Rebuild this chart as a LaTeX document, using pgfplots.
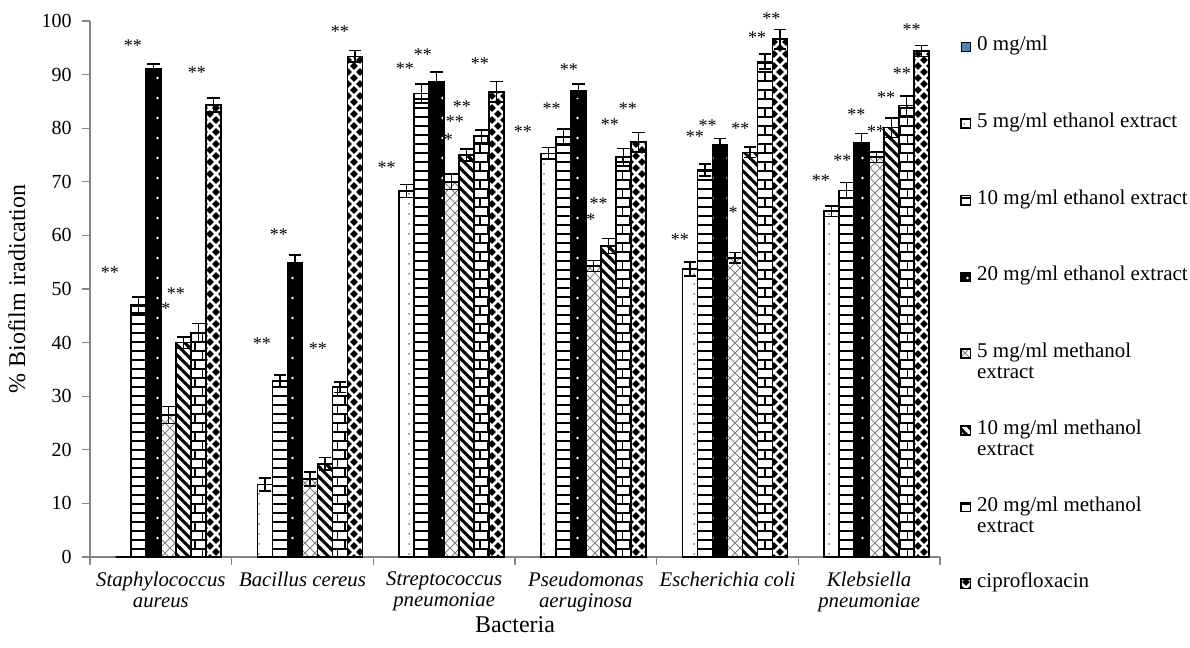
\documentclass[border=0pt]{standalone}
\usepackage{pgfplots}
\pgfplotsset{compat=1.18}
\usepackage{pgfplotstable}
\usetikzlibrary{patterns}
\usepackage{fontspec}
\setmainfont{Liberation Serif}

\definecolor{excelblue}{RGB}{79,129,189}
\definecolor{axisgray}{RGB}{134,134,134}

\pgfdeclarepatternformonly{sdots}{\pgfqpoint{-1pt}{-1pt}}{\pgfqpoint{8pt}{6pt}}{\pgfqpoint{7.5pt}{5pt}}{%
  \pgfpathcircle{\pgfqpoint{2pt}{2pt}}{0.5pt}\pgfusepath{fill}}
\pgfdeclarepatternformonly{wdots}{\pgfqpoint{-1pt}{-1pt}}{\pgfqpoint{8pt}{11pt}}{\pgfqpoint{7.5pt}{10pt}}{%
  \pgfpathcircle{\pgfqpoint{3.75pt}{5pt}}{0.7pt}\pgfusepath{fill}}
\pgfdeclarepatternformonly{hstripes}{\pgfqpoint{-1pt}{-1pt}}{\pgfqpoint{5pt}{5pt}}{\pgfqpoint{4pt}{4.5pt}}{%
  \pgfsetlinewidth{1.1pt}\pgfpathmoveto{\pgfqpoint{-1pt}{0pt}}\pgfpathlineto{\pgfqpoint{5pt}{0pt}}\pgfusepath{stroke}}
\pgfdeclarepatternformonly{xhatch}{\pgfqpoint{-1pt}{-1pt}}{\pgfqpoint{6pt}{6pt}}{\pgfqpoint{5pt}{5pt}}{%
  \pgfsetlinewidth{0.5pt}\pgfpathmoveto{\pgfqpoint{0pt}{0pt}}\pgfpathlineto{\pgfqpoint{5pt}{5pt}}%
  \pgfpathmoveto{\pgfqpoint{0pt}{5pt}}\pgfpathlineto{\pgfqpoint{5pt}{0pt}}\pgfusepath{stroke}}
\pgfdeclarepatternformonly{nwthick}{\pgfqpoint{-1pt}{-1pt}}{\pgfqpoint{6pt}{6pt}}{\pgfqpoint{5pt}{5pt}}{%
  \pgfsetlinewidth{1.5pt}\pgfpathmoveto{\pgfqpoint{-0.5pt}{5.5pt}}\pgfpathlineto{\pgfqpoint{5.5pt}{-0.5pt}}\pgfusepath{stroke}}
\pgfdeclarepatternformonly{brick}{\pgfqpoint{-1pt}{-1pt}}{\pgfqpoint{8.5pt}{10pt}}{\pgfqpoint{7.5pt}{9pt}}{%
  \pgfsetlinewidth{0.9pt}%
  \pgfpathmoveto{\pgfqpoint{-1pt}{0pt}}\pgfpathlineto{\pgfqpoint{8.5pt}{0pt}}%
  \pgfpathmoveto{\pgfqpoint{-1pt}{4.5pt}}\pgfpathlineto{\pgfqpoint{8.5pt}{4.5pt}}%
  \pgfpathmoveto{\pgfqpoint{3.75pt}{0pt}}\pgfpathlineto{\pgfqpoint{3.75pt}{4.5pt}}%
  \pgfpathmoveto{\pgfqpoint{0pt}{4.5pt}}\pgfpathlineto{\pgfqpoint{0pt}{9pt}}%
  \pgfusepath{stroke}}
\pgfdeclarepatternformonly{diam}{\pgfqpoint{-2pt}{-2pt}}{\pgfqpoint{5pt}{5pt}}{\pgfqpoint{6pt}{6pt}}{%
  \pgfpathmoveto{\pgfqpoint{-1.9pt}{0pt}}\pgfpathlineto{\pgfqpoint{0pt}{1.9pt}}\pgfpathlineto{\pgfqpoint{1.9pt}{0pt}}\pgfpathlineto{\pgfqpoint{0pt}{-1.9pt}}\pgfpathclose
  \pgfpathmoveto{\pgfqpoint{1.1pt}{3pt}}\pgfpathlineto{\pgfqpoint{3pt}{4.9pt}}\pgfpathlineto{\pgfqpoint{4.9pt}{3pt}}\pgfpathlineto{\pgfqpoint{3pt}{1.1pt}}\pgfpathclose
  \pgfusepath{fill}}

\pgfplotstableread{
x v0 v1 e1 v2 e2 v3 e3 v4 e4 v5 e5 v6 e6 v7 e7
0 0 0 0 47.0 1.5 91.0 1.0 26.5 1.6 40.0 1.1 41.8 1.8 84.3 1.3
1 0 13.5 1.2 32.8 1.1 54.9 1.4 14.6 1.3 17.4 1.2 31.7 1.0 93.4 1.1
2 0 68.3 1.2 86.5 1.8 88.6 1.9 70.0 1.4 75.0 1.1 78.5 1.2 86.8 1.9
3 0 75.3 1.1 78.4 1.5 87.0 1.3 54.3 1.0 58.0 1.4 74.6 1.6 77.4 1.8
4 0 53.7 1.3 72.2 1.1 76.9 1.2 55.8 1.0 75.5 1.0 92.4 1.4 96.6 1.8
5 0 64.5 1.0 68.4 1.5 77.3 1.7 74.6 1.0 80.1 1.8 84.2 1.8 94.4 1.0
}\data

\newcommand{\LE}[2]{\vtop{\hbox{\strut #1}\hbox{\strut #2}}}
\newcommand{\sigtwo}[2]{\node[font=\fontsize{9}{10}\selectfont, inner sep=0pt] at (axis cs:#1,#2) {**};}
\newcommand{\sigone}[2]{\node[font=\fontsize{9}{10}\selectfont, inner sep=0pt] at (axis cs:#1,#2) {*};}

\begin{document}
\begin{tikzpicture}
\path[use as bounding box] (-45pt,-45.5pt) rectangle (550pt,278.5pt);
\begin{axis}[
  at={(0,0)}, anchor=south west,
  scale only axis, width=425pt, height=268pt,
  ybar=0pt, bar width=0.10588,
  xmin=-0.5, xmax=5.5, ymin=0, ymax=100,
  xtick={-0.5,0.5,...,5.5},
  x tick label as interval,
  xticklabels={{Staphylococcus\\aureus},{Bacillus cereus},{Streptococcus\\pneumoniae},{Pseudomonas\\aeruginosa},{Escherichia coli},{Klebsiella\\pneumoniae}},
  xticklabel style={font=\fontsize{10.4}{10.5}\selectfont\itshape, align=center},
  ytick={0,10,...,100},
  yticklabel style={font=\fontsize{10}{11}\selectfont, xshift=-1.6pt},
  /pgf/number format/assume math mode=true,
  axis lines*=left,
  axis line style={axisgray, line width=0.6pt},
  tick style={axisgray, line width=0.6pt},
  tick align=outside, major tick length=4pt,
  clip=false,
  ylabel={\% Biofilm iradication},
  ylabel style={font=\fontsize{12}{14}\selectfont, at={(axis description cs:-0.086,0.5)}, anchor=center},
  xlabel={Bacteria},
  xlabel style={font=\fontsize{12}{14}\selectfont, at={(axis description cs:0.5,-0.127)}, anchor=center},
  legend image code/.code={\draw[#1] (0pt,-0.3pt) rectangle (4.6pt,4.3pt);},
  legend style={draw=none, fill=none, inner sep=0pt, row sep=25.5pt, column sep=1pt,
    at={(axis description cs:1.0235,0.98)}, anchor=north west,
    font=\fontsize{10.5}{10.5}\selectfont,
    cells={anchor=base west, inner xsep=0pt, inner ysep=0pt}},
  error bars/y dir=both, error bars/y explicit,
  error bars/error bar style={black, line width=0.8pt},
  error bars/error mark options={black, rotate=90, mark size=3.2pt, line width=0.8pt},
]
\addplot[fill=excelblue, draw=none, error bars/y dir=none] table[x=x,y=v0] {\data};
\addlegendentry{\LE{0 mg/ml}{}}
\addplot[draw=black, line width=0.8pt, preaction={fill=white}, pattern=sdots, pattern color=gray] table[x=x,y=v1,y error=e1] {\data};
\addlegendentry{\LE{5 mg/ml ethanol extract}{}}
\addplot[draw=black, line width=0.8pt, preaction={fill=white}, pattern=hstripes, pattern color=black] table[x=x,y=v2,y error=e2] {\data};
\addlegendentry{\LE{10 mg/ml ethanol extract}{}}
\addplot[draw=black, line width=0.8pt, preaction={fill=black}, pattern=wdots, pattern color=white] table[x=x,y=v3,y error=e3] {\data};
\addlegendentry{\LE{20 mg/ml ethanol extract}{}}
\addplot[draw=black, line width=0.8pt, preaction={fill=white}, pattern=xhatch, pattern color=gray] table[x=x,y=v4,y error=e4] {\data};
\addlegendentry{\LE{5 mg/ml methanol}{extract}}
\addplot[draw=black, line width=0.8pt, preaction={fill=white}, pattern=nwthick, pattern color=black] table[x=x,y=v5,y error=e5] {\data};
\addlegendentry{\LE{10 mg/ml methanol}{extract}}
\addplot[draw=black, line width=0.8pt, preaction={fill=white}, pattern=brick, pattern color=black] table[x=x,y=v6,y error=e6] {\data};
\addlegendentry{\LE{20 mg/ml methanol}{extract}}
\addplot[draw=black, line width=0.8pt, preaction={fill=white}, pattern=diam, pattern color=black] table[x=x,y=v7,y error=e7] {\data};
\addlegendentry{\LE{ciprofloxacin}{}}

\sigtwo{-0.36}{53} \sigtwo{-0.197}{95.5} \sigtwo{0.107}{49.2} \sigtwo{0.255}{90.3}
\sigtwo{0.714}{39.8} \sigtwo{0.834}{60.2} \sigtwo{1.109}{38.8} \sigtwo{1.264}{98}
\sigtwo{1.594}{72.6} \sigtwo{1.723}{91.2} \sigtwo{1.85}{93.8} \sigtwo{2.076}{81.2} \sigtwo{2.125}{84} \sigtwo{2.252}{92.1}
\sigtwo{2.556}{79.4} \sigtwo{2.758}{83.7} \sigtwo{2.88}{91} \sigtwo{3.09}{65.9} \sigtwo{3.17}{80.6} \sigtwo{3.297}{83.7}
\sigtwo{3.664}{59.3} \sigtwo{3.77}{78.5} \sigtwo{3.86}{80.4} \sigtwo{4.09}{80} \sigtwo{4.21}{96.9} \sigtwo{4.31}{100.4}
\sigtwo{4.66}{70.2} \sigtwo{4.81}{74} \sigtwo{4.91}{82.6} \sigtwo{5.05}{79.4} \sigtwo{5.12}{85.8} \sigtwo{5.23}{90.1} \sigtwo{5.30}{98.4}
\sigone{0.036}{46.3} \sigone{2.029}{77.8} \sigone{3.036}{63} \sigone{4.04}{64.3}
\end{axis}
\end{tikzpicture}
\end{document}
